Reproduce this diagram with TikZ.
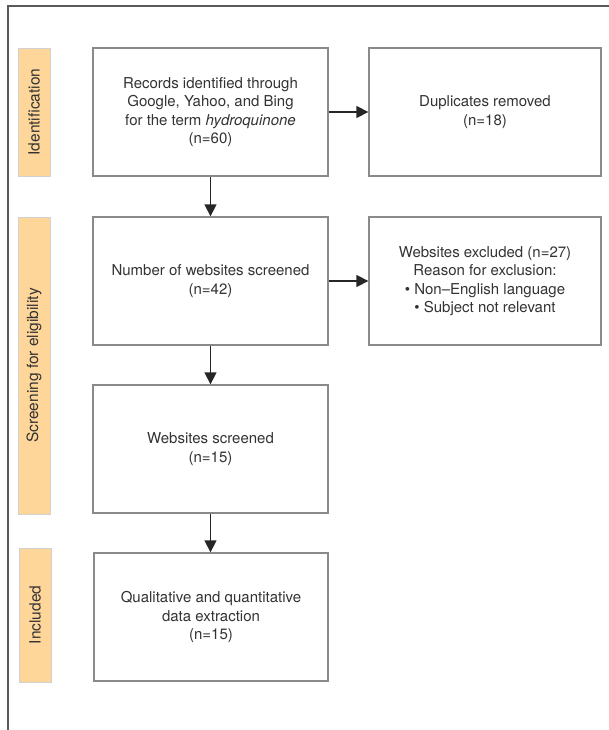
\documentclass[tikz,border=0pt]{standalone}
\usepackage{fontspec}
\setmainfont{TeX Gyre Heros}
\usetikzlibrary{arrows.meta}
\definecolor{peach}{HTML}{FFD699}
\definecolor{boxgray}{HTML}{8A8A8A}
\definecolor{framegray}{HTML}{5A5A5A}
\tikzset{
  flowbox/.style={draw=boxgray, line width=1.3pt, fill=white, minimum width=235pt, minimum height=128pt, align=center, inner sep=0pt, font=\fontsize{15}{18.5}\selectfont, text=black!80},
  sidebox/.style={draw=black!18, line width=0.8pt, fill=peach, minimum width=32pt, align=center, inner sep=0pt},
  sidetext/.style={rotate=90, font=\fontsize{15.5}{18}\selectfont, text=black!80},
  flowarrow/.style={draw=black!85, line width=1.3pt, -{Triangle[length=12pt,width=12pt]}}
}
\begin{document}
\begin{tikzpicture}[x=1pt,y=-1pt]
\useasboundingbox (0,0) rectangle (609,730);
% outer frame
\draw[framegray, line width=2pt] (8,730) -- (8,6.5) -- (609,6.5);
% side labels
\node[sidebox, minimum height=128pt] (lid) at (34,112) {};
\node[sidetext] (tid) at (lid.center) {Identification};
\node[sidebox, minimum height=297pt] (lsc) at (34,365.5) {};
\node[sidetext] (tsc) at (lsc.center) {Screening for eligibility};
\node[sidebox, minimum height=134pt] (lin) at (35,615) {};
\node[sidetext] (tin) at (lin.center) {Included};
% boxes
\node[flowbox] (b1) at (210.5,112) {Records identified through\\Google, Yahoo, and Bing\\for the term \textit{hydroquinone}\\(n=60)};
\node[flowbox, minimum width=232pt] (b2) at (485,112) {Duplicates removed\\(n=18)};
\node[flowbox] (b3) at (210.5,281) {Number of websites screened\\(n=42)};
\node[flowbox, minimum width=232pt] (b4) at (485,281) {Websites excluded (n=27)\\Reason for exclusion:\\\textbullet\ Non--English language\\\textbullet\ Subject not relevant};
\node[flowbox] (b5) at (210.5,449) {Websites screened\\(n=15)};
\node[flowbox, minimum width=234pt] (b6) at (211,617) {Qualitative and quantitative\\data extraction\\(n=15)};
% arrows
\draw[flowarrow] (b1.east) -- (b2.west);
\draw[flowarrow] (b3.east) -- (b4.west);
\draw[flowarrow] (b1.south) -- (b3.north);
\draw[flowarrow] (b3.south) -- (b5.north);
\draw[flowarrow] (b5.south) -- (b5.south |- b6.north);
\end{tikzpicture}
\end{document}
